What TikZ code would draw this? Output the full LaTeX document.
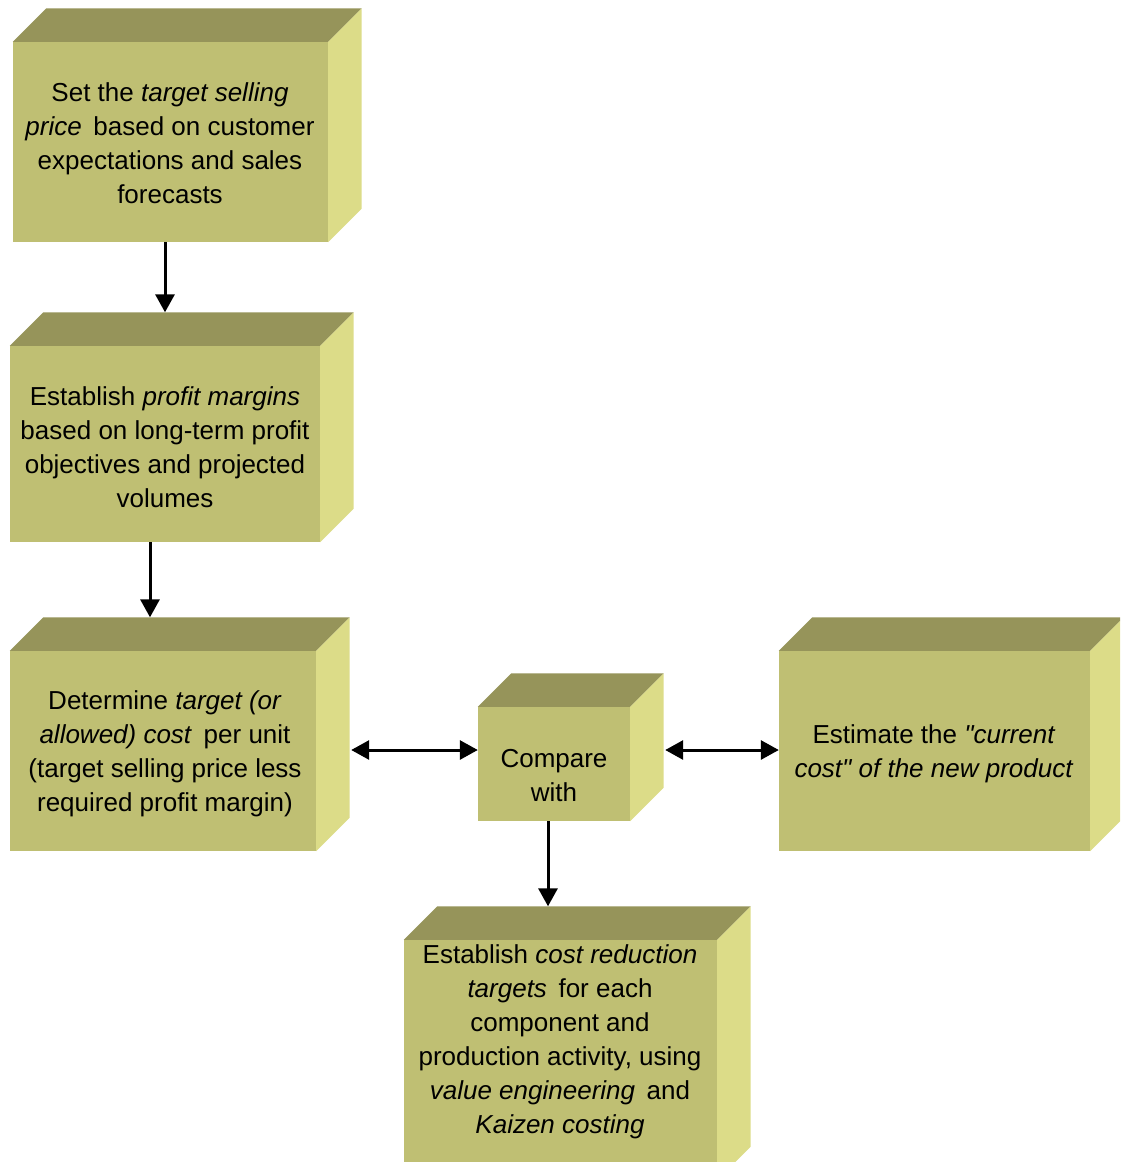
\documentclass[tikz,border=0pt]{standalone}
\usepackage{fontspec}
\setmainfont{Liberation Sans}[Ligatures=TeXOff]
\usetikzlibrary{calc,arrows.meta}
\definecolor{facefront}{RGB}{191,191,115}
\definecolor{facetop}{RGB}{150,148,90}
\definecolor{faceside}{RGB}{220,220,136}
\tikzset{
  front/.style={rectangle, fill=facefront, draw=none, inner sep=0pt},
  boxtext/.style={align=center, inner sep=0pt, font=\fontsize{26}{34}\selectfont},
  arr/.style={line width=3pt, -{Triangle[length=18pt,width=19pt]}},
  darr/.style={line width=3pt, {Triangle[length=18pt,width=19pt]}-{Triangle[length=18pt,width=19pt]}},
}
\begin{document}
\begin{tikzpicture}[x=1pt,y=-1pt]
\clip (0,0) rectangle (1120,1162);
\fill[white] (0,0) rectangle (1120,1162);

% front faces
\node[front, minimum width=315pt, minimum height=200pt] (b1) at (170.5,142) {};
\node[front, minimum width=310pt, minimum height=196pt] (b2) at (165,444) {};
\node[front, minimum width=306pt, minimum height=200pt] (b3) at (163,751) {};
\node[front, minimum width=152pt, minimum height=114pt] (cmp) at (554,764) {};
\node[front, minimum width=311pt, minimum height=200pt] (b4) at (934.5,751) {};
\node[front, minimum width=313pt, minimum height=240pt] (b5) at (560.5,1060) {};

% top and side faces of each block
\foreach \n in {b1,b2,b3,cmp,b4,b5}{
  \fill[facetop] (\n.north west) -- ++(33.5,-33.5) -- ($(\n.north east)+(33.5,-33.5)$) -- (\n.north east) -- cycle;
  \fill[faceside] (\n.north east) -- ++(33.5,-33.5) -- ($(\n.south east)+(33.5,-33.5)$) -- (\n.south east) -- cycle;
}

% labels
\node[boxtext] (t1) at (170,143.5) {Set the \textit{target selling}\\ \textit{price}\, based on customer\\ expectations and sales\\ forecasts};
\node[boxtext] (t2) at (165,447) {Establish \textit{profit margins}\\ based on long-term profit\\ objectives and projected\\ volumes};
\node[boxtext] (t3) at (165,754) {Determine \textit{target (or}\\ \textit{allowed) cost}\, per unit\\ (target selling price less\\ required profit margin)};
\node[boxtext] (tc) at (554,775.5) {Compare\\ with};
\node[boxtext] (t4) at (934,754) {Estimate the \textit{"current}\\ \textit{cost" of the new product}};
\node[boxtext] (t5) at (560,1042) {Establish \textit{cost reduction}\\ \textit{targets}\, for each\\ component and\\ production activity, using\\ \textit{value engineering}\, and\\ \textit{Kaizen costing}};

% connectors
\draw[arr] (b1.south -| b2.north) -- ($(b2.north)+(0,-33.5)$);
\draw[arr] ($(b2.south)+(-15,0)$) -- ($(b3.north)+(-13,-33.5)$);
\draw[arr] ($(cmp.south)+(-6,0)$) -- ($(b5.north)+(-12.5,-33.5)$);
\coordinate (lj) at ($(b3.east)+(35,-1)$);
\coordinate (rj) at ($(cmp.east)+(35,-14)$);
\draw[darr] (lj) -- (lj -| cmp.west);
\draw[darr] (rj) -- (rj -| b4.west);
\end{tikzpicture}
\end{document}
